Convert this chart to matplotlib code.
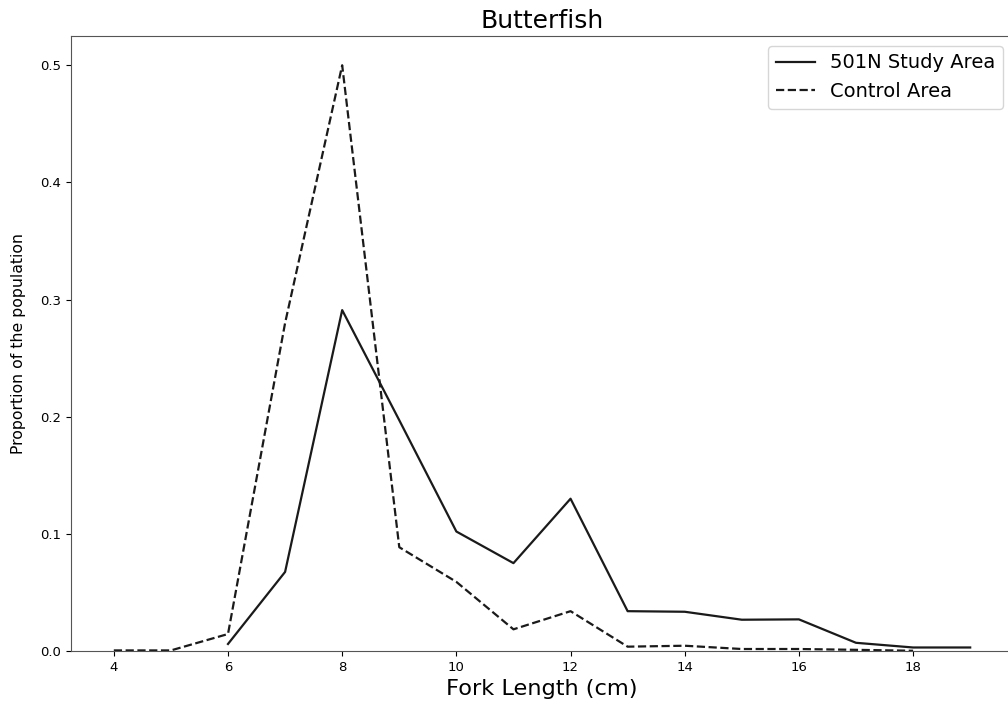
import matplotlib
matplotlib.use("Agg")
import matplotlib.pyplot as plt

# Fork length bins (cm) and proportion of fish in each bin
study_lengths = [6, 7, 8, 9, 10, 11, 12, 13, 14, 15, 16, 17, 18, 19]
study_props = [0.006, 0.0675, 0.291, 0.197, 0.102, 0.075, 0.130,
               0.034, 0.0335, 0.0267, 0.027, 0.007, 0.003, 0.003]

control_lengths = [4, 5, 6, 7, 8, 9, 10, 11, 12, 13, 14, 15, 16, 17, 18]
control_props = [0.0005, 0.0005, 0.0145, 0.28, 0.50, 0.0886, 0.059, 0.0185,
                 0.034, 0.0037, 0.0045, 0.0017, 0.0017, 0.001, 0.0002]

x_ticks = [4, 6, 8, 10, 12, 14, 16, 18]

fig = plt.figure(figsize=(10.08, 7.08), dpi=100)
ax = fig.add_axes([71 / 1008, 57 / 708, 942 / 1008, 615 / 708])

ax.plot(study_lengths, study_props, color="#1a1a1a", linestyle="-",
        linewidth=1.6, label="501N Study Area")
ax.plot(control_lengths, control_props, color="#1a1a1a", linestyle="--",
        linewidth=1.6, label="Control Area")

ax.set_ylim(bottom=0)
ax.set_xticks(x_ticks)
ax.tick_params(labelsize=9.5)
for side in ax.spines.values():
    side.set_color("#555555")

ax.set_title("Butterfish", fontsize=18)
ax.set_xlabel("Fork Length (cm)", fontsize=16.2, labelpad=4)
ax.set_ylabel("Proportion of the population", fontsize=11.3, labelpad=10)
ax.legend(loc="upper right", fontsize=14)

fig.savefig("out.png", dpi=100)
